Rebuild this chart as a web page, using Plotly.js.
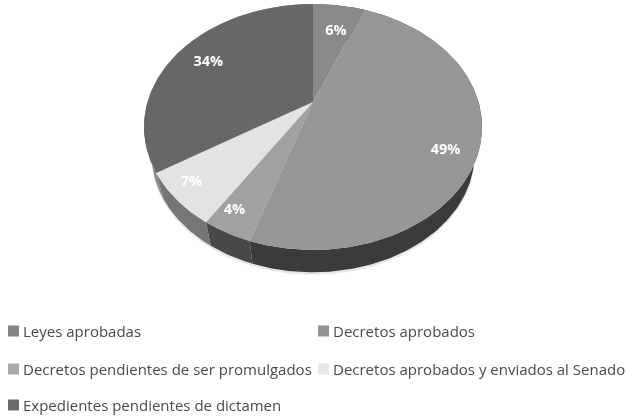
<!DOCTYPE html>
<html>
<head>
<meta charset="utf-8">
<script src="https://cdn.plot.ly/plotly-3.0.1.min.js"></script>
<style>html,body{margin:0;padding:0;background:#fff}#chart{width:627px;height:416px;filter:blur(0.4px)}</style>
</head>
<body>
<div id="chart"></div>
<script>
const categories = ["Leyes aprobadas","Decretos aprobados","Decretos pendientes de ser promulgados","Decretos aprobados y enviados al Senado","Expedientes pendientes de dictamen"];
const values = [6,49,4,7,34];
const faceColors = ["#89898b","#97979a","#a1a1a2","#e3e3e3","#676769"];
const sideColors = ["#4a4a4a","#3b3b3b","#484848","#767676","#8a8a8a"];
const swatchColors = ["#858587","#949496","#a9a9ac","#e8e8e8","#6a6a6e"];
const labelRadii = [0.7,0.83,0.87,0.88,0.77];
const labelTurns = [0.006,0.02,0.006,0.006,-0.002];

// Tilted-disc camera: maps a unit-disc point to chart pixels.
const cam = {cx:313, cy:102, rx:165.5, a:-97.2, c:0.203, shrink:0.955, depth:29};
function project(theta, r){
  const u = r*Math.sin(theta), v = r*Math.cos(theta), d = 1+cam.c*v;
  return [cam.cx+cam.rx*u/d, (cam.a*v+cam.cy)/d];
}
function lower(p){
  return [cam.cx+(p[0]-cam.cx)*cam.shrink, cam.cy+(p[1]-cam.cy)*cam.shrink+cam.depth];
}
function arc(t0,t1){
  const n = Math.max(2,Math.ceil(Math.abs(t1-t0)*180/Math.PI)), pts=[];
  for(let i=0;i<=n;i++) pts.push(project(t0+(t1-t0)*i/n,1));
  return pts;
}
const total = values.reduce((a,b)=>a+b,0);
let cum=0;
const spans = values.map(v=>{const s=[cum/total*2*Math.PI,(cum+v)/total*2*Math.PI];cum+=v;return s;});

const traces=[];
function poly(pts,color,name){
  traces.push({type:'scatter',mode:'lines',x:pts.map(p=>p[0]),y:pts.map(p=>p[1]),fill:'toself',
    fillcolor:color,line:{width:0,color:color},name:name,showlegend:false,hoverinfo:'name'});
}
// soft shadow
const ring = arc(0,2*Math.PI).map(lower).map(p=>[p[0],p[1]+2.5]);
poly(ring,"#e8e8e8","sombra");
// sides
spans.forEach((s,i)=>{
  const top=arc(s[0],s[1]);
  poly(top.concat(top.map(lower).reverse()),sideColors[i],categories[i]);
});
// faces
const apex=[cam.cx,cam.cy];
spans.forEach((s,i)=>{
  poly([apex].concat(arc(s[0],s[1])).concat([apex]),faceColors[i],categories[i]);
});
// value labels
const lp = spans.map((s,i)=>project((s[0]+s[1])/2+labelTurns[i]*2*Math.PI,labelRadii[i]));
traces.push({type:'scatter',mode:'text',x:lp.map(p=>p[0]),y:lp.map(p=>p[1]),
  text:values.map(v=>v+'%'),textposition:'middle center',
  textfont:{family:'"Open Sans",sans-serif',size:14.5,color:'#ffffff',weight:700},
  showlegend:false,hoverinfo:'skip'});

// legend, two columns
const colX=[8,318], rowY=[331,369,405];
const legendPos=[[0,0],[1,0],[0,1],[1,1],[0,2]];
const shapes=[],annotations=[];
categories.forEach((c,i)=>{
  const x=colX[legendPos[i][0]], y=rowY[legendPos[i][1]];
  shapes.push({type:'rect',xref:'x',yref:'y',x0:x,x1:x+11,y0:y-5.5,y1:y+5.5,fillcolor:swatchColors[i],line:{width:0}});
  annotations.push({xref:'x',yref:'y',x:x+13,y:y,text:c,showarrow:false,xanchor:'left',yanchor:'middle',
    font:{family:'"Open Sans",sans-serif',size:15,color:'#4a4a4a'}});
});

Plotly.newPlot('chart',traces,{
  width:627,height:416,margin:{l:0,r:0,t:0,b:0},
  paper_bgcolor:'#ffffff',plot_bgcolor:'#ffffff',showlegend:false,
  xaxis:{range:[0,627],visible:false,fixedrange:true},
  yaxis:{range:[416,0],visible:false,fixedrange:true},
  shapes:shapes,annotations:annotations
},{displayModeBar:false,staticPlot:true});
</script>
</body>
</html>
